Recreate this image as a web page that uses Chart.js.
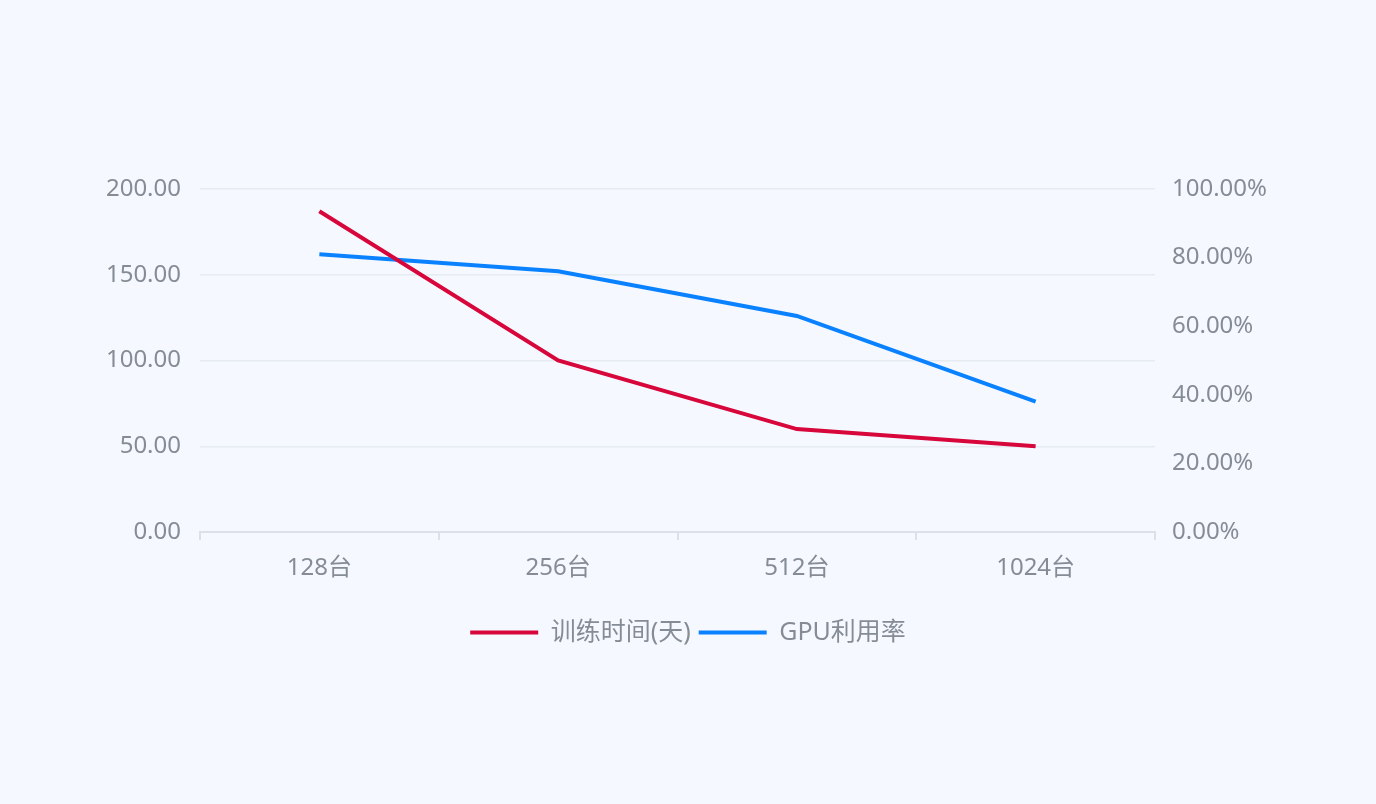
<!DOCTYPE html>
<html lang="zh-CN">
<head>
<meta charset="utf-8">
<title>训练时间与GPU利用率</title>
<script src="https://cdn.jsdelivr.net/npm/chart.js@4.4.1/dist/chart.umd.min.js"></script>
<style>
  html, body { margin: 0; padding: 0; background: #f5f9ff; }
  #wrap { width: 1376px; height: 804px; position: relative; }
</style>
</head>
<body>
<div id="wrap"><canvas id="chart"></canvas></div>
<script>
// Cluster sizes on the x axis
const categories = ['128台', '256台', '512台', '1024台'];
// Training time in days (left axis)
const trainingDays = [187, 100, 60, 50];
// GPU utilisation in percent (right axis)
const gpuUtilisation = [81, 76, 63, 38];
// Series names shown in the legend
const seriesNames = ['训练时间(天)', 'GPU利用率'];

const textColor = '#868c96';
const fontFamily = "'Noto Sans', 'Noto Sans CJK SC', sans-serif";

Chart.defaults.font.family = fontFamily;
Chart.defaults.color = textColor;

new Chart(document.getElementById('chart'), {
  type: 'line',
  data: {
    labels: categories,
    datasets: [
      {
        label: seriesNames[0],
        data: trainingDays,
        yAxisID: 'yDays',
        borderColor: '#d7063b',
        backgroundColor: '#d7063b',
        borderWidth: 4,
        pointRadius: 0,
        tension: 0,
        fill: false
      },
      {
        label: seriesNames[1],
        data: gpuUtilisation,
        yAxisID: 'yUtil',
        borderColor: '#0a82ff',
        backgroundColor: '#0a82ff',
        borderWidth: 4,
        pointRadius: 0,
        tension: 0,
        fill: false
      }
    ]
  },
  options: {
    responsive: true,
    maintainAspectRatio: false,
    animation: false,
    layout: { padding: { top: 189, left: 0, right: 0, bottom: 149 } },
    plugins: {
      tooltip: { enabled: false },
      legend: {
        position: 'bottom',
        labels: {
          usePointStyle: true,
          pointStyle: 'line',
          pointStyleWidth: 68,
          boxWidth: 68,
          padding: 8,
          color: textColor,
          font: { size: 25 }
        }
      }
    },
    scales: {
      x: {
        offset: true,
        grid: {
          offset: true,
          drawOnChartArea: false,
          drawTicks: true,
          tickLength: 8,
          color: '#dce1e9',
          lineWidth: 2
        },
        border: { display: true, color: '#dce1e9', width: 2 },
        ticks: { color: textColor, font: { size: 24 }, padding: 14 },
        afterFit: (scale) => { scale.height = 80; }
      },
      yDays: {
        type: 'linear',
        position: 'left',
        min: 0,
        max: 200,
        grid: { color: '#e6ebf2', lineWidth: 1.5, drawTicks: false },
        border: { display: false },
        ticks: {
          stepSize: 50,
          padding: 19,
          color: textColor,
          font: { size: 24 },
          callback: (v) => Number(v).toFixed(2)
        },
        afterFit: (scale) => { scale.width = 200; }
      },
      yUtil: {
        type: 'linear',
        position: 'right',
        min: 0,
        max: 100,
        grid: { drawOnChartArea: false, drawTicks: false },
        border: { display: false },
        ticks: {
          stepSize: 20,
          padding: 17,
          color: textColor,
          font: { size: 24 },
          callback: (v) => Number(v).toFixed(2) + '%'
        },
        afterFit: (scale) => { scale.width = 221; }
      }
    }
  }
});
</script>
</body>
</html>
